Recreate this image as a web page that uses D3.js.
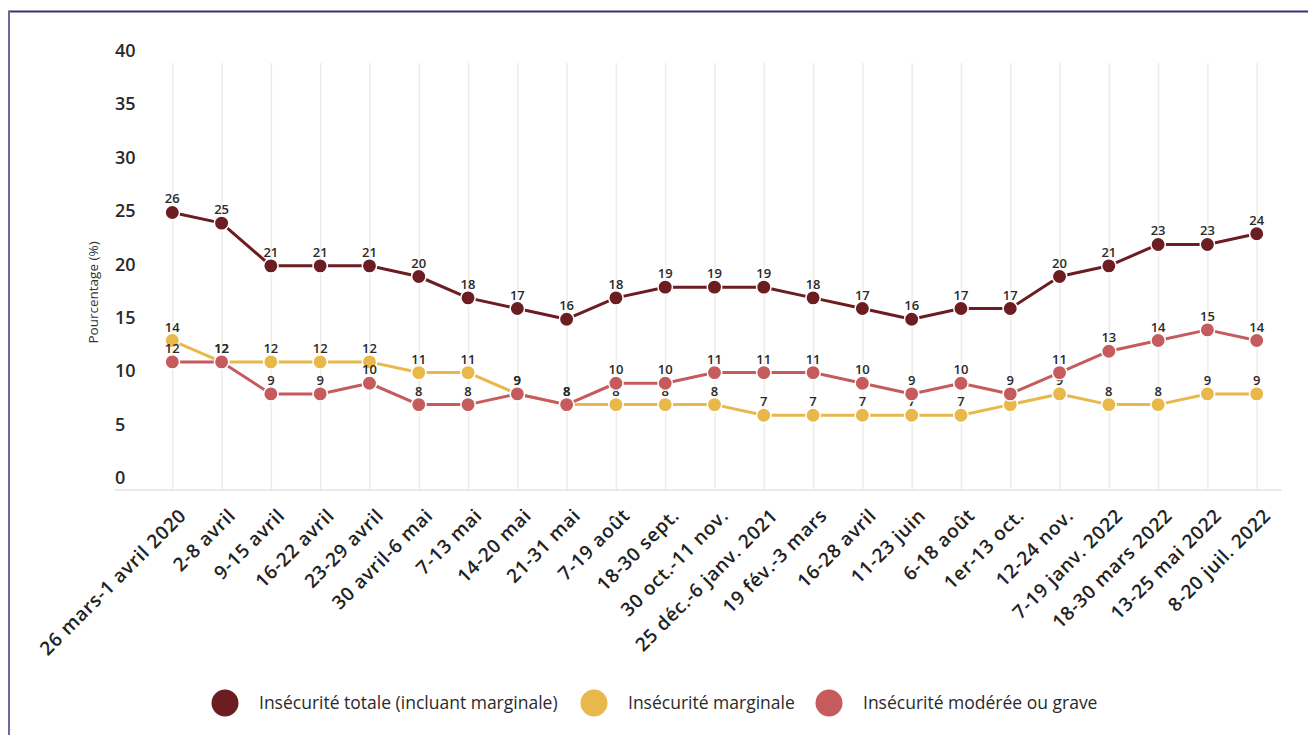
<!DOCTYPE html>
<html>
<head>
<meta charset="utf-8">
<script src="https://cdn.jsdelivr.net/npm/d3@7"></script>
<style>
  html, body { margin: 0; padding: 0; background: #fff; }
  svg { display: block; }
  text { font-family: "Open Sans", Roboto, "Noto Sans", sans-serif; }
</style>
</head>
<body>
<svg id="chart" width="1308" height="735"></svg>
<script>
const categories = [
  "26 mars-1 avril 2020", "2-8 avril", "9-15 avril", "16-22 avril", "23-29 avril",
  "30 avril-6 mai", "7-13 mai", "14-20 mai", "21-31 mai", "7-19 août",
  "18-30 sept.", "30 oct.-11 nov.", "25 déc.-6 janv. 2021", "19 fév.-3 mars",
  "16-28 avril", "11-23 juin", "6-18 août", "1er-13 oct.", "12-24 nov.",
  "7-19 janv. 2022", "18-30 mars 2022", "13-25 mai 2022", "8-20 juil. 2022"
];
const totale =    [26,25,21,21,21,20,18,17,16,18,19,19,19,18,17,16,17,17,20,21,23,23,24];
const marginale = [14,12,12,12,12,11,11,9,8,8,8,8,7,7,7,7,7,8,9,8,8,9,9];
const moderee =   [12,12,9,9,10,8,8,9,8,10,10,11,11,11,10,9,10,9,11,13,14,15,14];
const yTicks = [0,5,10,15,20,25,30,35,40];
const seriesNames = ["Insécurité totale (incluant marginale)", "Insécurité marginale", "Insécurité modérée ou grave"];
const seriesColors = ["#6b1d21", "#e8b84b", "#c65b5d"];
const yTitle = "Pourcentage (%)";

const svg = d3.select("#chart");

// frame
svg.append("line").attr("x1", 8).attr("x2", 1308).attr("y1", 11.5).attr("y2", 11.5)
  .attr("stroke", "#34336f").attr("stroke-width", 2);
svg.append("line").attr("x1", 9).attr("x2", 9).attr("y1", 11).attr("y2", 735)
  .attr("stroke", "#6d6a9b").attr("stroke-width", 2);

const x = d3.scalePoint().domain(categories).range([172.3, 1256.7]);
const y = d3.scaleLinear().domain([0, 40]).range([490, 63]);
const step = x.step();

// x axis with vertical gridlines
const xAxis = svg.append("g").attr("transform", `translate(0,${y(0)})`)
  .call(d3.axisBottom(x).tickSize(-(y(0) - y(40))).tickPadding(0));
xAxis.select(".domain").remove();
xAxis.selectAll(".tick line").attr("stroke", "#ececec").attr("stroke-width", 1.5);
xAxis.selectAll(".tick text")
  .attr("transform", "translate(10,22) rotate(-45)")
  .attr("x", 0).attr("y", 0).attr("dy", "0.35em")
  .style("text-anchor", "end")
  .attr("fill", "#222")
  .style("font-size", "19px")
  .style("letter-spacing", "0.7px")
  .style("font-weight", "600");

// baseline
svg.append("line")
  .attr("x1", x(categories[0]) - step * 1.16).attr("x2", x(categories[categories.length - 1]) + step * 0.5)
  .attr("y1", y(0)).attr("y2", y(0))
  .attr("stroke", "#e2e2e2").attr("stroke-width", 1.5);

// y axis labels (sitting above their values)
const yAxis = svg.append("g").attr("transform", `translate(115,0)`)
  .call(d3.axisRight(y).tickValues(yTicks).tickSize(0).tickPadding(0));
yAxis.select(".domain").remove();
yAxis.selectAll(".tick text")
  .attr("dy", "-0.36em")
  .attr("fill", "#2a2a2a")
  .style("font-size", "18px")
  .style("font-weight", "600");

// y title
svg.append("text")
  .attr("transform", `translate(98,${(y(0) + y(40)) / 2 + 16}) rotate(-90)`)
  .attr("text-anchor", "middle")
  .attr("fill", "#333")
  .style("font-size", "13.5px")
  .text(yTitle);

const line = d3.line().x((d, i) => x(categories[i])).y(d => y(d));

function drawSeries(values, color) {
  const g = svg.append("g");
  g.append("path").datum(values)
    .attr("d", line).attr("fill", "none")
    .attr("stroke", color).attr("stroke-width", 3).attr("stroke-linejoin", "round");
  g.selectAll("circle").data(values).join("circle")
    .attr("cx", (d, i) => x(categories[i])).attr("cy", d => y(d))
    .attr("r", 7.2).attr("fill", color).attr("stroke", "#fff").attr("stroke-width", 1.5);
  g.selectAll("text").data(values).join("text")
    .attr("x", (d, i) => x(categories[i])).attr("y", d => y(d) - 9)
    .attr("text-anchor", "middle")
    .attr("fill", "#2a2a2a")
    .style("font-size", "13px")
    .style("font-weight", "600")
    .text(d => d);
}
drawSeries(totale, seriesColors[0]);
drawSeries(marginale, seriesColors[1]);
drawSeries(moderee, seriesColors[2]);

// legend
const legendX = [225, 594, 829];
const lg = svg.append("g");
seriesNames.forEach((name, i) => {
  lg.append("circle").attr("cx", legendX[i]).attr("cy", 703).attr("r", 13.5).attr("fill", seriesColors[i]);
  lg.append("text").attr("x", legendX[i] + 34).attr("y", 703).attr("dy", "0.35em")
    .attr("fill", "#2a2a2a").style("font-size", "17.5px").text(name);
});
</script>
</body>
</html>
